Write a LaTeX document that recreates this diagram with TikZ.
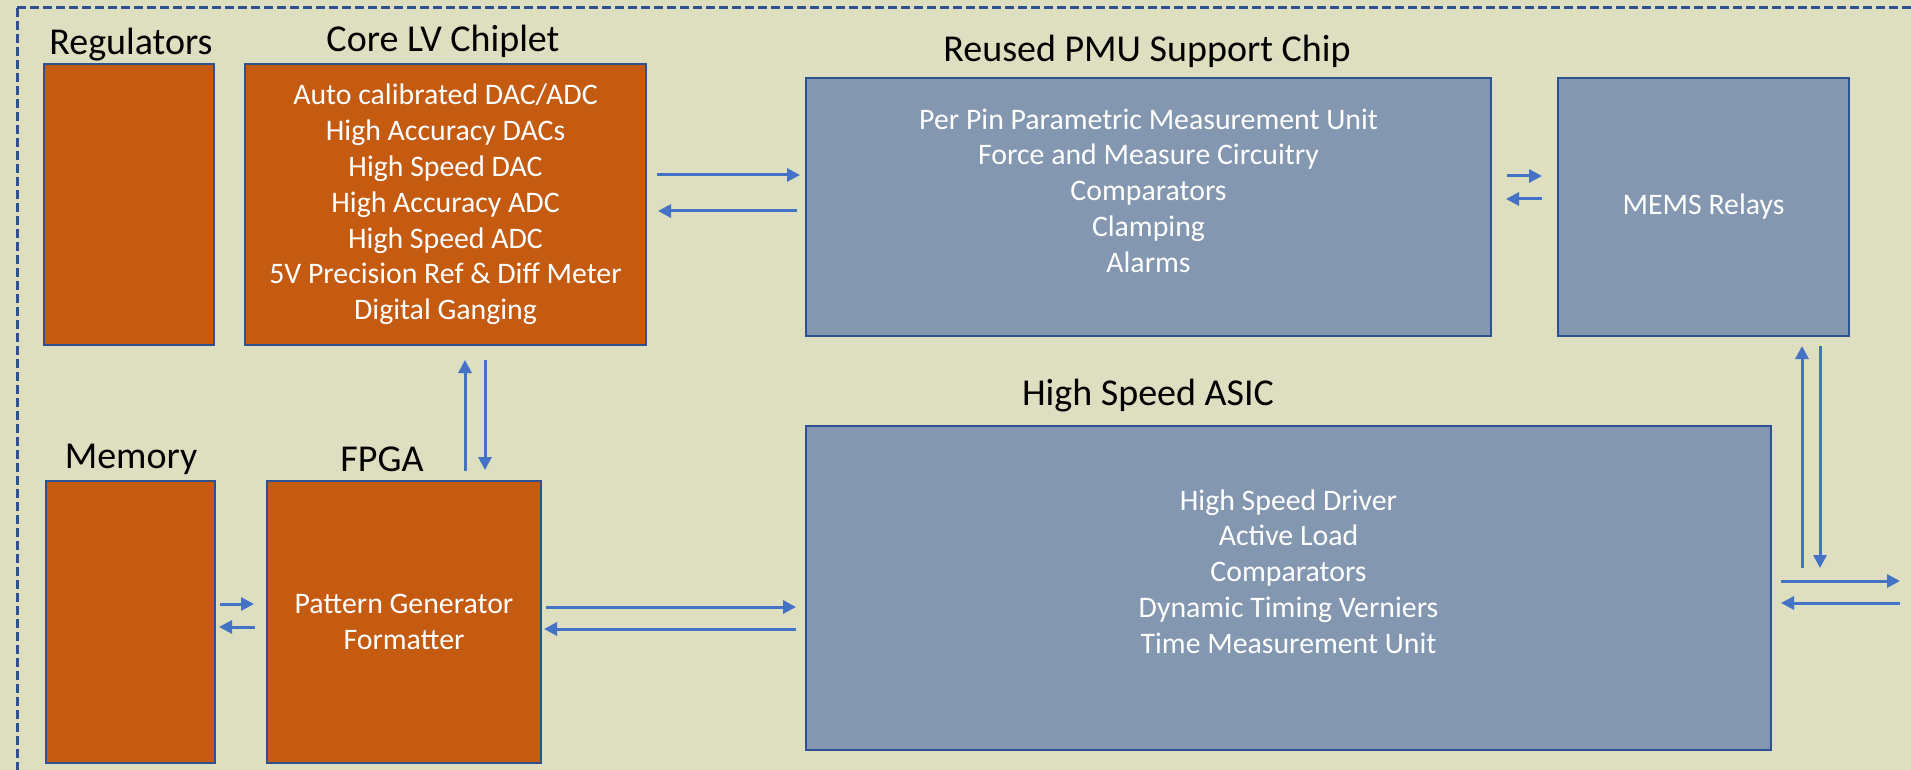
\documentclass[tikz,border=0pt]{standalone}
\usepackage{fontspec}
\setmainfont{Carlito}
\usetikzlibrary{arrows.meta}

\definecolor{bgtan}{RGB}{222,222,192}
\definecolor{chiporange}{RGB}{197,90,17}
\definecolor{chipblue}{RGB}{132,151,176}
\definecolor{edgeblue}{RGB}{47,82,143}
\definecolor{arrowblue}{RGB}{68,114,196}

\begin{document}
\begin{tikzpicture}[x=1pt, y=-1pt,
    chip/.style={rectangle, draw=edgeblue, line width=2pt, fill=chiporange, text=white, align=center, inner sep=0pt, anchor=north west, font=\fontsize{29.8}{35.8}\selectfont},
    bluechip/.style={chip, fill=chipblue},
    chiptext/.style={text=white, align=center, inner sep=0pt, font=\fontsize{29.8}{35.8}\selectfont},
    title/.style={anchor=base, font=\fontsize{38}{45}\selectfont},
    link/.style={draw=arrowblue, line width=3pt, -{Triangle[length=13pt, width=13pt]}},
    frame/.style={draw=edgeblue, line width=3pt, dash pattern=on 9pt off 4pt}]
  \useasboundingbox (0,0) rectangle (1911,770);
  \clip (0,0) rectangle (1911,770);
  \fill [bgtan] (0,0) rectangle (1911,770);
  \draw [frame] (17,8) rectangle (1940,800);

  \node [chip, minimum width=170pt, minimum height=281pt] (reg) at (43,63) {};
  \node [chip, minimum width=401pt, minimum height=281pt] (core) at (244,63) {Auto calibrated DAC/ADC\\High Accuracy DACs\\High Speed DAC\\High Accuracy ADC\\High Speed ADC\\5V Precision Ref \& Diff Meter\\Digital Ganging};
  \node [bluechip, minimum width=685pt, minimum height=258pt] (pmu) at (805,77) {};
  \node [chiptext] (pmutext) at ([yshift=16.5pt]pmu.center) {Per Pin Parametric Measurement Unit\\Force and Measure Circuitry\\Comparators\\Clamping\\Alarms};
  \node [bluechip, minimum width=291pt, minimum height=258pt] (mems) at (1557,77) {MEMS Relays};
  \node [chip, minimum width=169pt, minimum height=282pt] (mem) at (45,480) {};
  \node [chip, minimum width=274pt, minimum height=282pt] (fpga) at (266,480) {Pattern Generator\\Formatter};
  \node [bluechip, minimum width=965pt, minimum height=324pt] (asic) at (805,425) {};
  \node [chiptext] (asictext) at ([yshift=16.5pt]asic.center) {High Speed Driver\\Active Load\\Comparators\\Dynamic Timing Verniers\\Time Measurement Unit};

  \node [title] (regtitle) at (131,55) {Regulators};
  \node [title] (coretitle) at (443,52) {Core LV Chiplet};
  \node [title] (pmutitle) at (1147,62) {Reused PMU Support Chip};
  \node [title] (asictitle) at (1148,405) {High Speed ASIC};
  \node [title] (memtitle) at (131,468) {Memory};
  \node [title] (fpgatitle) at (382,471) {FPGA};

  \coordinate (upfoot) at (1802,568);
  \coordinate (downfoot) at (1820,568);
  \coordinate (pinout) at (1900,581);
  \coordinate (pinin) at (1900,603);

  \draw [link, shorten <=10pt, shorten >=5pt] (core.east |- 0,175) -- (pmu.west |- 0,175);
  \draw [link, shorten <=8pt, shorten >=11pt] (pmu.west |- 0,211) -- (core.east |- 0,211);
  \draw [link, shorten <=15pt, shorten >=15pt] (pmu.east |- 0,176) -- (mems.west |- 0,176);
  \draw [link, shorten <=15pt, shorten >=14pt] (mems.west |- 0,199) -- (pmu.east |- 0,199);
  \draw [link, shorten <=9pt, shorten >=14pt] (fpga.north -| 465,0) -- (core.south -| 465,0);
  \draw [link, shorten <=14pt, shorten >=10pt] (core.south -| 485,0) -- (fpga.north -| 485,0);
  \draw [link, shorten <=4pt, shorten >=12pt] (mem.east |- 0,604) -- (fpga.west |- 0,604);
  \draw [link, shorten <=11pt, shorten >=3pt] (fpga.west |- 0,627) -- (mem.east |- 0,627);
  \draw [link, shorten <=4pt, shorten >=9pt] (fpga.east |- 0,607) -- (asic.west |- 0,607);
  \draw [link, shorten <=9pt, shorten >=2pt] (asic.west |- 0,629) -- (fpga.east |- 0,629);
  \draw [link, shorten >=9pt] (upfoot) -- (mems.south -| upfoot);
  \draw [link, shorten <=9pt] (mems.south -| downfoot) -- (downfoot);
  \draw [link, shorten <=9pt] (asic.east |- pinout) -- (pinout);
  \draw [link, shorten >=9pt] (pinin) -- (asic.east |- pinin);
\end{tikzpicture}
\end{document}
